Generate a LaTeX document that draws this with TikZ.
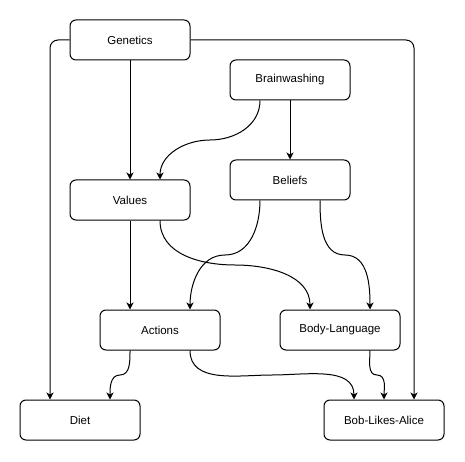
\documentclass[tikz,border=0pt]{standalone}
\usepackage{fontspec}
\setmainfont{Liberation Sans}
\usetikzlibrary{arrows.meta,calc}

\tikzset{
  box/.style={draw, line width=1pt, rounded corners=6pt, minimum width=120pt, minimum height=40pt,
    inner sep=0pt, font=\fontsize{11.5}{13}\selectfont},
  link/.style={line width=1pt, -{Stealth[length=7pt,width=7pt,inset=2pt]}},
}

\begin{document}
\begin{tikzpicture}[x=1pt,y=-1pt]
\useasboundingbox (0,0) rectangle (465,462);
\node[box] (genetics) at (130,40) {Genetics};
\node[box] (brainwash) at (290,80) {Brainwashing};
\node[box] (beliefs) at (290,180) {Beliefs};
\node[box] (values) at (130,200) {Values};
\node[box] (actions) at (160,330) {Actions};
\node[box] (bodylang) at (340,330) {Body-Language};
\node[box] (diet) at (80,420) {Diet};
\node[box] (bob) at (384,420) {Bob-Likes-Alice};
% straight links
\draw[link] (genetics) -- (values);
\draw[link] (brainwash) -- (beliefs);
\draw[link] (values) -- (actions.north -| values);
\draw[link, rounded corners=8pt] (genetics.west) -| ([xshift=-30pt]diet.north);
\draw[link, rounded corners=8pt] (genetics.east) -| ([xshift=30pt]bob.north);
% curved links
\coordinate (bw1) at ([xshift=-30pt]brainwash.south);
\coordinate (va1) at ([xshift=30pt]values.north);
\draw[link] (bw1) to[out=-90,in=0] ($(bw1)!0.5!(va1)$) to[out=180,in=90] (va1);
\coordinate (be1) at ([xshift=-30pt]beliefs.south);
\coordinate (ac1) at ([xshift=30pt]actions.north);
\draw[link] (be1) to[out=-90,in=0] ($(be1)!0.5!(ac1)$) to[out=180,in=90] (ac1);
\coordinate (be2) at ([xshift=30pt]beliefs.south);
\coordinate (bl1) at ([xshift=30pt]bodylang.north);
\draw[link] (be2) to[out=-90,in=180] ($(be2)!0.5!(bl1)$) to[out=0,in=90] (bl1);
\coordinate (va2) at ([xshift=30pt]values.south);
\coordinate (bl2) at ([xshift=-30pt]bodylang.north);
\draw[link] (va2) to[out=-90,in=180] ($(va2)!0.5!(bl2)$) to[out=0,in=90] (bl2);
\coordinate (ac2) at ([xshift=-30pt]actions.south);
\coordinate (di1) at ([xshift=30pt]diet.north);
\draw[link] (ac2) to[out=-90,in=0] ($(ac2)!0.5!(di1)$) to[out=180,in=90] (di1);
\coordinate (ac3) at ([xshift=30pt]actions.south);
\coordinate (bo1) at ([xshift=-30pt]bob.north);
\draw[link] (ac3) to[out=-90,in=180] ($(ac3)!0.5!(bo1)$) to[out=0,in=90] (bo1);
\coordinate (bl3) at ([xshift=30pt]bodylang.south);
\draw[link] (bl3) to[out=-90,in=180] ($(bl3)!0.5!(bob.north)$) to[out=0,in=90] (bob.north);
\end{tikzpicture}
\end{document}
